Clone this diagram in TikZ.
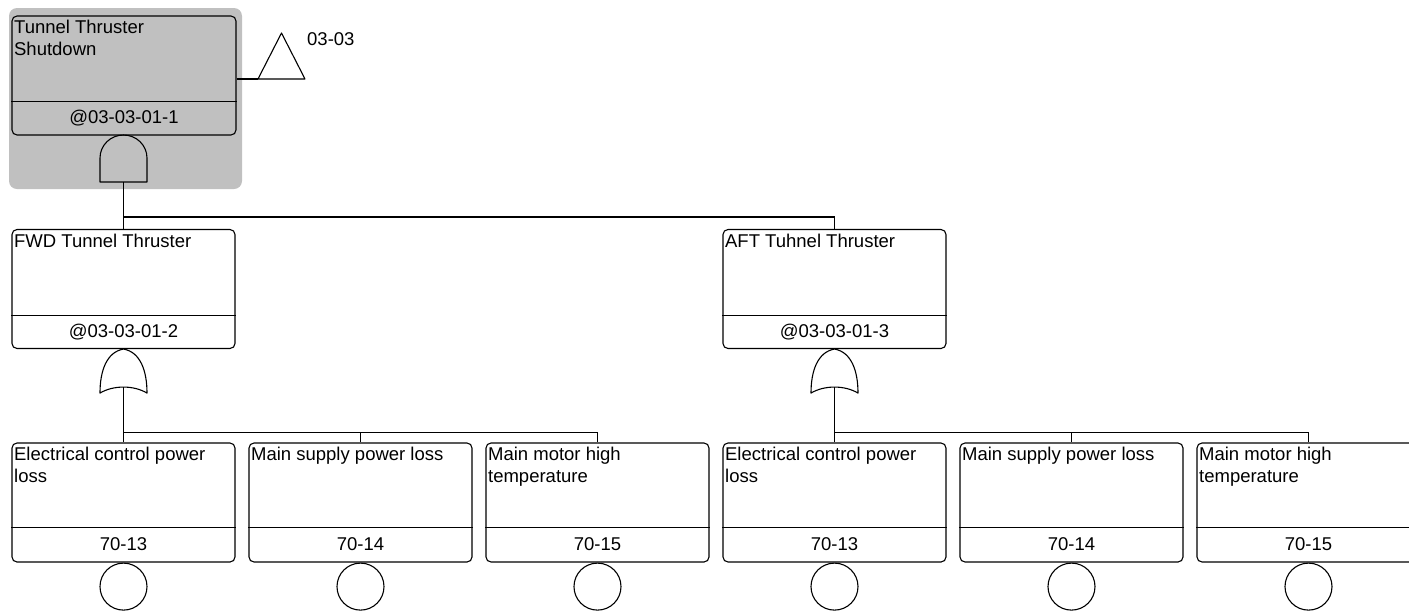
\documentclass[tikz,border=0pt]{standalone}
\usepackage{fontspec}
\setmainfont{Liberation Sans}
\usetikzlibrary{positioning,calc}
\definecolor{selgray}{HTML}{C0C0C0}
\tikzset{
  evbox/.style={rectangle, rounded corners=5pt, draw=black, line width=1.1pt,
                minimum width=223pt, minimum height=119pt, inner sep=0pt},
  selbg/.style={rectangle, rounded corners=8pt, fill=selgray, inner sep=0pt,
                minimum width=233pt, minimum height=181pt},
  ttl/.style={anchor=north west, inner sep=0pt, align=left, font=\fontsize{18.5}{22}\selectfont},
  idlbl/.style={anchor=base, inner sep=0pt, font=\fontsize{18.5}{22}\selectfont},
  basic/.style={circle, draw=black, line width=1.1pt, minimum size=47pt, inner sep=0pt},
  wire/.style={draw=black, line width=1.1pt},
  gate/.style={draw=black, line width=1.1pt, line join=round}
}

\begin{document}
\begin{tikzpicture}[x=1pt, y=1pt, node distance=0pt]
  \useasboundingbox (0,0) rectangle (1409,-611);
  \clip (0,0) rectangle (1409,-611);

  \node[selbg] (sel) at (125.5,-98.5) {};
  \node[evbox, fill=selgray, minimum width=224pt] (top) at (124,-75.5) {};
  \draw[wire] ($(top.south west)+(0,34)$) -- ($(top.south east)+(0,34)$);
  \node[ttl] (top-t) at ($(top.north west)+(2.5,-4.5)$) {Tunnel Thruster\\Shutdown};
  \node[idlbl] (top-id) at ($(top.south)+(0,12)$) {@03-03-01-1};

  \coordinate (xfer) at (281.5,-79);
  \coordinate (xfer-in) at ($(xfer)+(-23.5,0)$);
  \draw[gate] (xfer-in) -- ($(xfer)+(0,46)$) -- ($(xfer)+(23.5,0)$) -- cycle;
  \draw[wire] (top.east |- xfer) -- (xfer-in);
  \node[idlbl, anchor=base west] (xfer-lbl) at (307,-45.7) {03-03};

  \coordinate (and1) at (123.5,-182);
  \draw[gate] ($(and1)+(-23.5,0)$) -- ++(0,24)
    arc[start angle=180, end angle=0, x radius=23.5, y radius=23] -- ($(and1)+(23.5,0)$) -- cycle;

  \node[evbox] (fwd) at (123.5,-289) {};
  \node[evbox] (aft) at (834.5,-289) {};
  \foreach \n/\t/\i in {fwd/FWD Tunnel Thruster/@03-03-01-2, aft/AFT Tuhnel Thruster/@03-03-01-3} {
    \draw[wire] ($(\n.south west)+(0,34)$) -- ($(\n.south east)+(0,34)$);
    \node[ttl] (\n-t) at ($(\n.north west)+(2.5,-4.5)$) {\t};
    \node[idlbl] (\n-id) at ($(\n.south)+(0,12)$) {\i};
  }
  \draw[wire] (and1) -- (fwd.north);
  \draw[wire] (and1) |- ($(aft.north)+(0,12)$) -- (aft.north);

  \foreach \k/\x/\t/\i in {1/123.5/{Electrical control power\\loss}/70-13,
                           2/360.5/{Main supply power loss}/70-14,
                           3/597.5/{Main motor high\\temperature}/70-15,
                           4/834.5/{Electrical control power\\loss}/70-13,
                           5/1071.5/{Main supply power loss}/70-14,
                           6/1308.5/{Main motor high\\temperature}/70-15} {
    \node[evbox] (e\k) at (\x,-502.5) {};
    \draw[wire] ($(e\k.south west)+(0,35)$) -- ($(e\k.south east)+(0,35)$);
    \node[ttl] (e\k-t) at ($(e\k.north west)+(2.5,-4.5)$) {\t};
    \node[idlbl] (e\k-id) at ($(e\k.south)+(0,12.5)$) {\i};
    \node[basic, below=of e\k] (b\k) {};
  }

  \foreach \g/\p/\a/\b/\c in {1/fwd/e1/e2/e3, 2/aft/e4/e5/e6} {
    \coordinate (or\g) at (\p.south);
    \coordinate (or\g-out) at ($(or\g)+(0,-38)$);
    \draw[gate, shift={(or\g)}] (0,0) .. controls (-17,-3) and (-23.5,-22) .. (-23.5,-44)
      .. controls (-10,-36) and (10,-36) .. (23.5,-44)
      .. controls (23.5,-22) and (17,-3) .. (0,0);
    \draw[wire] (or\g-out) -- (\a.north);
    \draw[wire] (or\g-out) |- ($(\c.north)+(0,10)$) -- (\c.north);
    \draw[wire] ($(\b.north)+(0,10)$) -- (\b.north);
  }
\end{tikzpicture}
\end{document}
